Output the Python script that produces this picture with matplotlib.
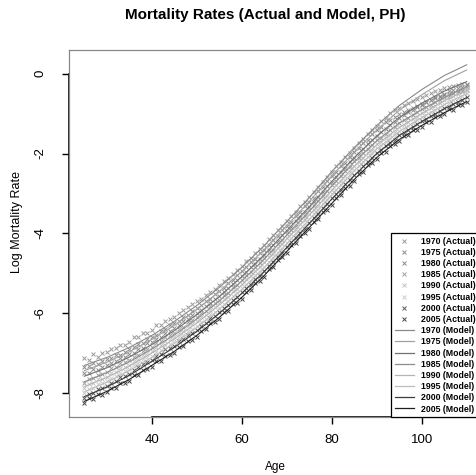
import numpy as np
import matplotlib
matplotlib.use("Agg")
import matplotlib.pyplot as plt
from matplotlib.lines import Line2D

plt.rcParams['font.family'] = ['Liberation Sans', 'DejaVu Sans']

years = [1970, 1975, 1980, 1985, 1990, 1995, 2000, 2005]
ages_actual = np.arange(25, 111)
ages_model = [25, 30, 35, 40, 45, 50, 55, 60, 65, 70, 75, 80, 85, 90, 95, 100, 105, 110]

model_1970 = [-7.3, -7.1, -6.85, -6.55, -6.2, -5.8, -5.35, -4.85, -4.3, -3.7, -3.1, -2.45, -1.85, -1.3, -0.8, -0.4, -0.05, 0.22]
model_1975 = [-7.43, -7.22, -6.96, -6.65, -6.30, -5.90, -5.45, -4.95, -4.40, -3.80, -3.20, -2.56, -1.96, -1.41, -0.92, -0.53, -0.18, 0.09]
model_1980 = [-7.57, -7.36, -7.09, -6.78, -6.43, -6.03, -5.58, -5.08, -4.53, -3.93, -3.33, -2.70, -2.10, -1.56, -1.10, -0.74, -0.44, -0.20]
model_1985 = [-7.71, -7.48, -7.21, -6.89, -6.54, -6.14, -5.69, -5.19, -4.64, -4.04, -3.44, -2.81, -2.21, -1.68, -1.24, -0.90, -0.60, -0.33]
model_1990 = [-7.83, -7.60, -7.32, -6.99, -6.64, -6.24, -5.79, -5.29, -4.74, -4.14, -3.54, -2.92, -2.32, -1.78, -1.35, -1.00, -0.68, -0.42]
model_1995 = [-7.96, -7.72, -7.43, -7.10, -6.75, -6.35, -5.90, -5.40, -4.85, -4.25, -3.65, -3.03, -2.43, -1.88, -1.45, -1.10, -0.78, -0.50]
model_2000 = [-8.08, -7.84, -7.55, -7.20, -6.85, -6.45, -6.00, -5.50, -4.95, -4.35, -3.75, -3.14, -2.55, -2.00, -1.55, -1.20, -0.88, -0.60]
model_2005 = [-8.2, -7.95, -7.65, -7.3, -6.95, -6.55, -6.1, -5.6, -5.05, -4.45, -3.85, -3.25, -2.65, -2.1, -1.65, -1.3, -0.98, -0.7]

actual_1970 = [-7.12, -7.16, -7.02, -7.08, -6.98, -6.96, -6.88, -6.86, -6.8, -6.78,
               -6.72, -6.6, -6.6, -6.5, -6.48, -6.42, -6.3, -6.3, -6.2, -6.14,
               -6.08, -5.98, -5.92, -5.84, -5.77, -5.7, -5.63, -5.55, -5.47, -5.4,
               -5.3, -5.2, -5.12, -5.01, -4.92, -4.82, -4.7, -4.61, -4.49, -4.39,
               -4.28, -4.15, -4.05, -3.92, -3.8, -3.69, -3.56, -3.45, -3.32, -3.21,
               -3.09, -2.95, -2.84, -2.7, -2.58, -2.46, -2.32, -2.22, -2.08, -1.98,
               -1.86, -1.73, -1.64, -1.51, -1.42, -1.31, -1.19, -1.11, -0.99, -0.91,
               -0.85, -0.79, -0.74, -0.68, -0.63, -0.58, -0.53, -0.49, -0.44, -0.41,
               -0.37, -0.34, -0.31, -0.29, -0.27, -0.25]
actual_1975 = [-7.33, -7.32, -7.25, -7.27, -7.18, -7.14, -7.12, -7.04, -7.05, -6.96,
               -6.89, -6.85, -6.76, -6.75, -6.65, -6.58, -6.53, -6.43, -6.4, -6.3,
               -6.24, -6.18, -6.08, -6.04, -5.94, -5.86, -5.8, -5.69, -5.64, -5.52,
               -5.44, -5.36, -5.23, -5.17, -5.04, -4.95, -4.85, -4.72, -4.64, -4.5,
               -4.41, -4.3, -4.16, -4.06, -3.92, -3.81, -3.7, -3.56, -3.46, -3.32,
               -3.21, -3.1, -2.94, -2.84, -2.68, -2.57, -2.46, -2.32, -2.23, -2.08,
               -1.97, -1.87, -1.74, -1.66, -1.52, -1.42, -1.33, -1.22, -1.16, -1.08,
               -1.02, -0.96, -0.9, -0.85, -0.8, -0.75, -0.7, -0.66, -0.61, -0.58,
               -0.54, -0.51, -0.48, -0.45, -0.43, -0.41]
actual_1980 = [-7.5, -7.5, -7.4, -7.41, -7.33, -7.3, -7.24, -7.2, -7.11, -7.09,
               -7.02, -6.98, -6.88, -6.86, -6.75, -6.72, -6.63, -6.59, -6.49, -6.45,
               -6.36, -6.3, -6.2, -6.14, -6.04, -5.98, -5.91, -5.81, -5.74, -5.63,
               -5.56, -5.46, -5.37, -5.26, -5.17, -5.07, -4.97, -4.85, -4.76, -4.63,
               -4.54, -4.42, -4.3, -4.18, -4.05, -3.94, -3.83, -3.69, -3.59, -3.45,
               -3.34, -3.22, -3.08, -2.96, -2.82, -2.71, -2.59, -2.46, -2.35, -2.22,
               -2.11, -2.0, -1.88, -1.77, -1.66, -1.57, -1.47, -1.38, -1.28, -1.2,
               -1.11, -1.04, -0.97, -0.9, -0.83, -0.78, -0.71, -0.66, -0.59, -0.55,
               -0.5, -0.44, -0.41, -0.36, -0.33, -0.29]
actual_1985 = [-7.74, -7.64, -7.62, -7.53, -7.52, -7.46, -7.37, -7.34, -7.24, -7.22,
               -7.17, -7.08, -7.03, -6.93, -6.9, -6.84, -6.75, -6.7, -6.59, -6.55,
               -6.49, -6.39, -6.33, -6.22, -6.17, -6.1, -5.99, -5.93, -5.81, -5.75,
               -5.66, -5.55, -5.48, -5.35, -5.28, -5.17, -5.05, -4.97, -4.83, -4.74,
               -4.62, -4.5, -4.41, -4.27, -4.17, -4.02, -3.91, -3.81, -3.67, -3.57,
               -3.42, -3.31, -3.19, -3.05, -2.94, -2.79, -2.68, -2.57, -2.43, -2.33,
               -2.19, -2.1, -1.99, -1.88, -1.79, -1.67, -1.6, -1.5, -1.42, -1.34,
               -1.23, -1.17, -1.1, -1.03, -0.97, -0.89, -0.84, -0.78, -0.71, -0.66,
               -0.59, -0.55, -0.49, -0.43, -0.4, -0.34]
actual_1990 = [-7.86, -7.77, -7.74, -7.65, -7.63, -7.58, -7.5, -7.46, -7.36, -7.33,
               -7.28, -7.18, -7.14, -7.03, -6.99, -6.95, -6.85, -6.8, -6.69, -6.65,
               -6.59, -6.49, -6.43, -6.32, -6.27, -6.2, -6.09, -6.03, -5.91, -5.85,
               -5.75, -5.65, -5.58, -5.45, -5.38, -5.26, -5.15, -5.07, -4.93, -4.85,
               -4.72, -4.6, -4.51, -4.37, -4.27, -4.12, -4.01, -3.91, -3.77, -3.67,
               -3.52, -3.41, -3.3, -3.16, -3.05, -2.9, -2.79, -2.68, -2.55, -2.45,
               -2.3, -2.21, -2.1, -1.99, -1.9, -1.77, -1.7, -1.6, -1.53, -1.45,
               -1.34, -1.28, -1.2, -1.14, -1.08, -0.99, -0.94, -0.86, -0.8, -0.74,
               -0.67, -0.63, -0.56, -0.51, -0.47, -0.41]
actual_1995 = [-7.99, -7.9, -7.86, -7.77, -7.75, -7.7, -7.62, -7.57, -7.48, -7.44,
               -7.39, -7.3, -7.24, -7.15, -7.1, -7.06, -6.96, -6.91, -6.8, -6.76,
               -6.7, -6.6, -6.54, -6.43, -6.38, -6.31, -6.21, -6.14, -6.02, -5.96,
               -5.86, -5.76, -5.69, -5.56, -5.49, -5.37, -5.26, -5.18, -5.04, -4.96,
               -4.83, -4.71, -4.62, -4.48, -4.38, -4.23, -4.12, -4.02, -3.88, -3.78,
               -3.63, -3.52, -3.41, -3.27, -3.16, -3.01, -2.9, -2.79, -2.66, -2.56,
               -2.41, -2.32, -2.21, -2.09, -2.0, -1.87, -1.8, -1.71, -1.63, -1.55,
               -1.44, -1.38, -1.31, -1.24, -1.17, -1.09, -1.04, -0.96, -0.9, -0.84,
               -0.77, -0.73, -0.66, -0.6, -0.56, -0.49]
actual_2000 = [-8.12, -8.02, -7.99, -7.89, -7.87, -7.82, -7.74, -7.69, -7.6, -7.56,
               -7.51, -7.42, -7.35, -7.26, -7.21, -7.17, -7.06, -7.01, -6.9, -6.86,
               -6.81, -6.7, -6.64, -6.53, -6.48, -6.42, -6.31, -6.24, -6.12, -6.06,
               -5.97, -5.86, -5.79, -5.66, -5.59, -5.47, -5.36, -5.28, -5.14, -5.06,
               -4.93, -4.81, -4.72, -4.58, -4.48, -4.33, -4.22, -4.12, -3.98, -3.88,
               -3.73, -3.62, -3.51, -3.37, -3.26, -3.12, -3.01, -2.9, -2.77, -2.67,
               -2.53, -2.43, -2.32, -2.2, -2.11, -1.98, -1.91, -1.81, -1.73, -1.65,
               -1.54, -1.48, -1.41, -1.34, -1.27, -1.19, -1.14, -1.06, -1.0, -0.94,
               -0.87, -0.83, -0.76, -0.7, -0.66, -0.59]
actual_2005 = [-8.25, -8.12, -8.14, -8.01, -8.04, -7.97, -7.86, -7.87, -7.73, -7.74,
               -7.68, -7.55, -7.53, -7.41, -7.40, -7.33, -7.2, -7.18, -7.06, -7.05,
               -6.98, -6.84, -6.82, -6.68, -6.66, -6.58, -6.43, -6.4, -6.25, -6.22,
               -6.13, -5.97, -5.93, -5.77, -5.73, -5.63, -5.46, -5.41, -5.24, -5.19,
               -5.08, -4.9, -4.84, -4.66, -4.6, -4.48, -4.3, -4.24, -4.06, -4.0,
               -3.88, -3.7, -3.64, -3.46, -3.4, -3.28, -3.1, -3.04, -2.86, -2.8,
               -2.68, -2.51, -2.46, -2.29, -2.24, -2.13, -1.98, -1.95, -1.8, -1.77,
               -1.68, -1.55, -1.54, -1.41, -1.4, -1.33, -1.21, -1.2, -1.08, -1.07,
               -1.01, -0.89, -0.9, -0.78, -0.79, -0.72]

actuals = [actual_1970, actual_1975, actual_1980, actual_1985,
           actual_1990, actual_1995, actual_2000, actual_2005]
models = [model_1970, model_1975, model_1980, model_1985,
          model_1990, model_1995, model_2000, model_2005]

point_colors = ['#9a9a9a', '#8c8c8c', '#8c8c8c', '#a0a0a0', '#c4c4c4', '#cccccc', '#5a5a5a', '#474747']
line_colors = ['#8a8a8a', '#a0a0a0', '#707070', '#8c8c8c', '#b4b4b4', '#bcbcbc', '#3c3c3c', '#1e1e1e']

W, H = 477, 475
fig = plt.figure(figsize=(W / 100, H / 100), dpi=100)
ax = fig.add_axes([69 / W, 1 - 417 / H, 413 / W, 367 / H])

for yr, act, col in zip(years, actuals, point_colors):
    n = min(len(act), len(ages_actual))
    ax.plot(ages_actual[:n], act[:n], linestyle='none', marker='x', markersize=2.6,
            markeredgewidth=0.7, color=col)
for yr, mod, col in zip(years, models, line_colors):
    ax.plot(ages_model, mod, color=col, lw=0.8)

ax.set_xlim(21.6, 113.4)
ax.set_ylim(-8.59, 0.59)
ax.set_xticks([40, 60, 80, 100])
ax.set_yticks([0, -2, -4, -6, -8])
ax.set_yticklabels(['0', '-2', '-4', '-6', '-8'], rotation=90, va='center')
ax.tick_params(axis='both', direction='out', length=5, width=1.0, labelsize=9.5, colors='black')
ax.tick_params(axis='y', pad=11)
ax.tick_params(axis='x', pad=7)
for s in ax.spines.values():
    s.set_color('#888888')
    s.set_linewidth(0.9)
ax.plot([0, 0], [-8, 0], transform=ax.get_yaxis_transform(), color='black', lw=1.2, clip_on=False)
ax.plot([40, 100], [0, 0], transform=ax.get_xaxis_transform(), color='black', lw=1.2, clip_on=False)

handles = []
labels = []
for yr, col in zip(years, point_colors):
    handles.append(Line2D([], [], linestyle='none', marker='x', markersize=2.6,
                          markeredgewidth=0.7, color=col))
    labels.append(f'{yr} (Actual)')
for yr, col in zip(years, line_colors):
    handles.append(Line2D([], [], color=col, lw=0.9))
    labels.append(f'{yr} (Model)')
leg = fig.legend(handles, labels, loc='lower right', bbox_to_anchor=(479 / W, 1 - 417 / H),
                 bbox_transform=fig.transFigure, borderaxespad=0,
                 prop={'weight': 'bold', 'size': 6.3}, frameon=True, fancybox=False,
                 edgecolor='black', framealpha=1, handlelength=2.2, handletextpad=0.8,
                 labelspacing=0.25, borderpad=0.4)
leg.get_frame().set_linewidth(0.9)

fig.text(265 / W, 1 - 15 / H, 'Mortality Rates (Actual and Model, PH)', ha='center', va='center',
         fontsize=11, fontweight='bold')
fig.text(275 / W, 1 - 467 / H, 'Age', ha='center', va='center', fontsize=8.5)
fig.text(17 / W, 1 - 222 / H, 'Log Mortality Rate', ha='center', va='center', fontsize=9,
         rotation=90)

fig.savefig('out.png', dpi=100)
